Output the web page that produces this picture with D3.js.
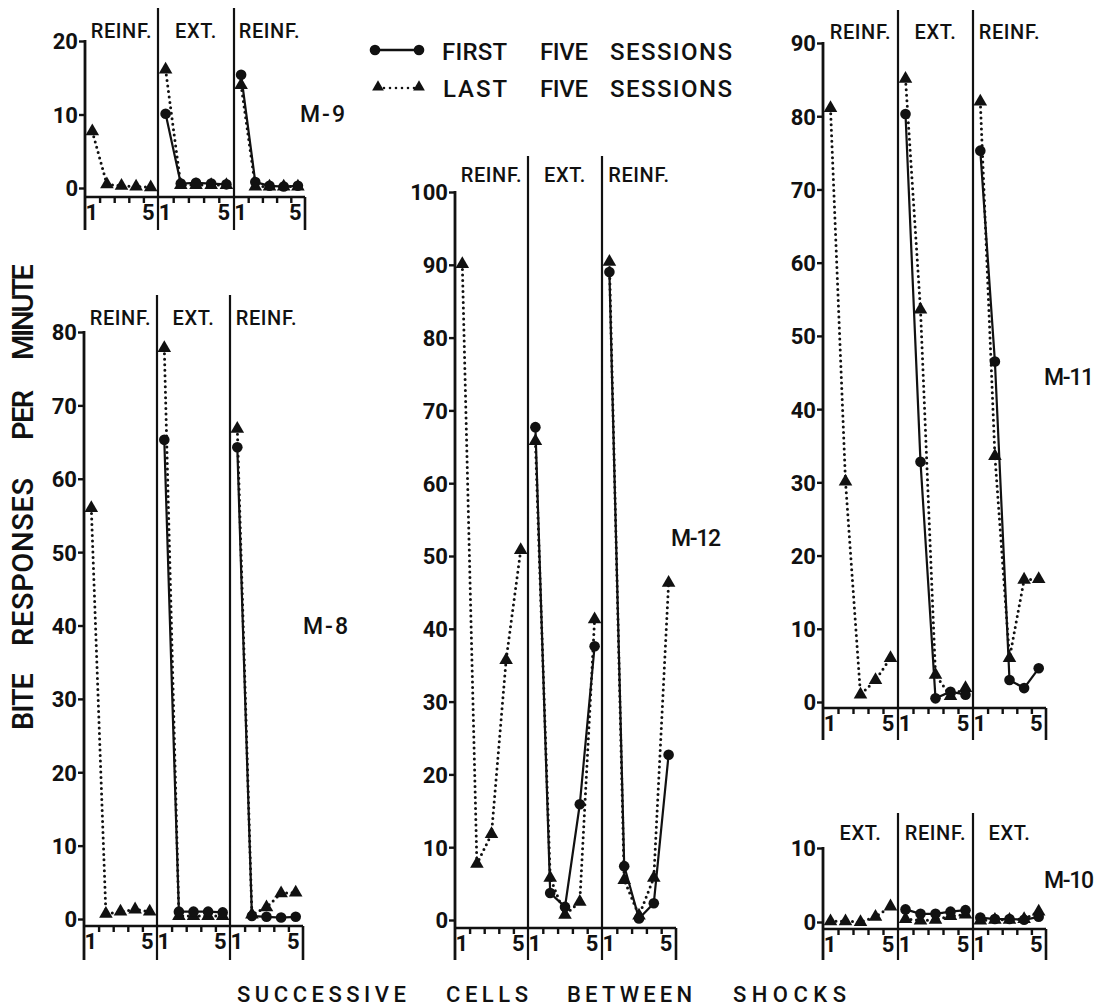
<!DOCTYPE html>
<html>
<head>
<meta charset="utf-8">
<script src="https://cdn.jsdelivr.net/npm/d3@7"></script>
<style>
  html, body { margin: 0; padding: 0; background: #fff; }
  svg { display: block; }
  text { font-family: Roboto, "DejaVu Sans", sans-serif; fill: #111; }
</style>
</head>
<body>
<svg id="chart" width="1113" height="1007"></svg>
<script>
// Bite responses per minute, cells 1-5 of each condition block.
const cells = [1, 2, 3, 4, 5];
const cellTickLabels = ["1", "5"];
const cellTickValues = [1, 5];

const phasesStandard = ["REINF.", "EXT.", "REINF."];
const phasesM10 = ["EXT.", "REINF.", "EXT."];

const seriesNames = ["FIRST FIVE SESSIONS", "LAST FIVE SESSIONS"];
const titleY = ["BITE", "RESPONSES", "PER", "MINUTE"];
const titleX = ["SUCCESSIVE", "CELLS", "BETWEEN", "SHOCKS"];

const NA = [null, null, null, null, null];

// M-9
const m9First = [NA, [10.1, 0.6, 0.7, 0.6, 0.5], [15.4, 0.8, 0.3, 0.2, 0.3]];
const m9Last  = [[7.7, 0.5, 0.3, 0.2, 0.1], [16.1, 0.4, 0.4, 0.4, 0.4], [14.0, 0.2, 0.2, 0.2, 0.2]];
const m9Ticks = [0, 10, 20];

// M-8
const m8First = [NA, [65.3, 1.0, 1.0, 1.0, 0.9], [64.3, 0.4, 0.3, 0.2, 0.3]];
const m8Last  = [[56.0, 0.7, 1.0, 1.3, 1.0], [77.8, 0.4, 0.4, 0.4, 0.4], [66.8, 0.6, 1.6, 3.5, 3.6]];
const m8Ticks = [0, 10, 20, 30, 40, 50, 60, 70, 80];

// M-12
const m12First = [NA, [67.7, 3.7, 1.8, 15.9, 37.6], [89.0, 7.4, 0.2, 2.3, 22.7]];
const m12Last  = [[90.1, 7.7, 11.8, 35.7, 50.8], [65.8, 5.8, 0.7, 2.5, 41.3], [90.4, 5.5, 0.6, 5.8, 46.3]];
const m12Ticks = [0, 10, 20, 30, 40, 50, 60, 70, 80, 90, 100];

// M-11
const m11First = [NA, [80.3, 32.8, 0.5, 1.4, 1.0], [75.3, 46.5, 3.0, 1.9, 4.6]];
const m11Last  = [[81.1, 30.1, 1.0, 3.0, 6.0], [85.1, 53.6, 3.7, 0.8, 1.9], [82.0, 33.6, 6.0, 16.7, 16.8]];
const m11Ticks = [0, 10, 20, 30, 40, 50, 60, 70, 80, 90];

// M-10
const m10First = [NA, [1.7, 1.1, 1.1, 1.4, 1.6], [0.6, 0.4, 0.4, 0.3, 0.7]];
const m10Last  = [[0.1, 0.1, 0.0, 0.7, 2.1], [0.4, 0.2, 0.3, 0.8, 1.0], [0.2, 0.3, 0.3, 0.4, 1.4]];
const m10Ticks = [0, 10];

// Panel frames: left axis x, block boundaries, y range in pixels.
const panels = [
  { name: "M-9",  phases: phasesStandard, first: m9First,  last: m9Last,  ticks: m9Ticks,
    bounds: [85, 158, 234, 305], y0: 188, yTop: 41, axisY: 197, bottom: 230, divTop: 8, labelY: 38, nameX: 300, nameY: 122 },
  { name: "M-8",  phases: phasesStandard, first: m8First,  last: m8Last,  ticks: m8Ticks,
    bounds: [84, 157, 230, 303], y0: 919, yTop: 332, axisY: 926, bottom: 960, divTop: 295, labelY: 325, nameX: 303, nameY: 634 },
  { name: "M-12", phases: phasesStandard, first: m12First, last: m12Last, ticks: m12Ticks,
    bounds: [455, 528, 602, 676], y0: 920, yTop: 192, axisY: 928, bottom: 960, divTop: 156, labelY: 182, nameX: 671, nameY: 546 },
  { name: "M-11", phases: phasesStandard, first: m11First, last: m11Last, ticks: m11Ticks,
    bounds: [823, 898, 973, 1046], y0: 702, yTop: 43, axisY: 708, bottom: 740, divTop: 10, labelY: 39, nameX: 1044, nameY: 385 },
  { name: "M-10", phases: phasesM10,      first: m10First, last: m10Last, ticks: m10Ticks,
    bounds: [823, 898, 973, 1046], y0: 922, yTop: 848, axisY: 929, bottom: 960, divTop: 813, labelY: 840, nameX: 1044, nameY: 888 }
];

const svg = d3.select("#chart");
const ink = "#111";

const triangle = d3.symbol().type(d3.symbolTriangle).size(80);

panels.forEach(p => {
  const g = svg.append("g");
  const yMax = p.ticks[p.ticks.length - 1];
  const y = d3.scaleLinear().domain([0, yMax]).range([p.y0, p.yTop]);

  // y axis with ticks and labels
  const yAxis = d3.axisLeft(y).tickValues(p.ticks).tickSize(6).tickPadding(1).tickFormat(d3.format("d"));
  const ya = g.append("g").attr("transform", `translate(${p.bounds[0]},0)`).call(yAxis);
  ya.select(".domain").remove();
  ya.selectAll(".tick line").attr("stroke", ink).attr("stroke-width", 2.4);
  ya.selectAll(".tick text")
    .attr("font-size", 22).attr("font-weight", 700)
    .attr("font-family", "Roboto, sans-serif").attr("fill", ink).attr("dy", "0.36em");

  // vertical axis line running down past the baseline
  g.append("line").attr("x1", p.bounds[0]).attr("x2", p.bounds[0])
    .attr("y1", p.yTop - 1).attr("y2", p.bottom)
    .attr("stroke", ink).attr("stroke-width", 2.8);

  // block dividers
  [p.bounds[1], p.bounds[2]].forEach(bx => {
    g.append("line").attr("x1", bx).attr("x2", bx)
      .attr("y1", p.divTop).attr("y2", p.bottom)
      .attr("stroke", ink).attr("stroke-width", 2.2);
  });
  // right end bar under the cell axis
  g.append("line").attr("x1", p.bounds[3]).attr("x2", p.bounds[3])
    .attr("y1", p.axisY).attr("y2", p.bottom)
    .attr("stroke", ink).attr("stroke-width", 2.6);

  // horizontal cell axis
  g.append("line").attr("x1", p.bounds[0]).attr("x2", p.bounds[3])
    .attr("y1", p.axisY).attr("y2", p.axisY)
    .attr("stroke", ink).attr("stroke-width", 2.6);

  const lineGen = xs => d3.line().defined(d => d.v != null).x(d => xs(d.c)).y(d => y(d.v));

  p.phases.forEach((label, i) => {
    const x0 = p.bounds[i], x1 = p.bounds[i + 1];
    const xs = d3.scaleLinear().domain([0.5, 5.5]).range([x0, x1]);

    // minor ticks between cells
    const minor = d3.axisBottom(xs).tickValues([1.5, 2.5, 3.5, 4.5]).tickSize(6).tickFormat("");
    const ma = g.append("g").attr("transform", `translate(0,${p.axisY})`).call(minor);
    ma.select(".domain").remove();
    ma.selectAll(".tick line").attr("stroke", ink).attr("stroke-width", 2.4);

    // "1" and "5" labels
    const lab = d3.axisBottom(xs).tickValues(cellTickValues).tickSize(0).tickPadding(7)
      .tickFormat((d, k) => cellTickLabels[k]);
    const la = g.append("g").attr("transform", `translate(0,${p.axisY})`).call(lab);
    la.select(".domain").remove();
    la.selectAll(".tick text")
      .attr("font-size", 22).attr("font-weight", 700)
      .attr("font-family", "Roboto, sans-serif").attr("fill", ink)
      .attr("dx", (d, k) => k === 0 ? -1 : -3);

    // block label
    g.append("text").attr("x", (x0 + x1) / 2).attr("y", p.labelY)
      .attr("text-anchor", "middle").attr("font-size", 20).attr("font-weight", 500)
      .attr("letter-spacing", 0.6).text(label);

    const lastPts = cells.map((c, k) => ({ c, v: p.last[i][k] }));
    const firstPts = cells.map((c, k) => ({ c, v: p.first[i][k] }));

    // last five sessions: dotted line with triangles
    g.append("path").datum(lastPts).attr("d", lineGen(xs))
      .attr("fill", "none").attr("stroke", ink).attr("stroke-width", 3)
      .attr("stroke-linecap", "round").attr("stroke-dasharray", "0,5.5");
    g.selectAll(null).data(lastPts.filter(d => d.v != null)).enter().append("path")
      .attr("d", triangle).attr("fill", ink)
      .attr("transform", d => `translate(${xs(d.c)},${y(d.v)})`);

    // first five sessions: solid line with dots
    g.append("path").datum(firstPts).attr("d", lineGen(xs))
      .attr("fill", "none").attr("stroke", ink).attr("stroke-width", 2.2);
    g.selectAll(null).data(firstPts.filter(d => d.v != null)).enter().append("circle")
      .attr("cx", d => xs(d.c)).attr("cy", d => y(d.v)).attr("r", 5.3).attr("fill", ink);
  });

  // subject name
  g.append("text").attr("x", p.nameX).attr("y", p.nameY)
    .attr("font-size", 23).attr("font-weight", 500)
    .attr("textLength", p.name.length === 3 ? 45 : 50).attr("lengthAdjust", "spacing")
    .text(p.name);
});

// Legend
const leg = svg.append("g");
leg.append("line").attr("x1", 375).attr("x2", 419).attr("y1", 50).attr("y2", 50)
  .attr("stroke", ink).attr("stroke-width", 2.4);
leg.selectAll(null).data([375, 419]).enter().append("circle")
  .attr("cx", d => d).attr("cy", 50).attr("r", 5.3).attr("fill", ink);
leg.append("line").attr("x1", 378).attr("x2", 419).attr("y1", 88).attr("y2", 88)
  .attr("stroke", ink).attr("stroke-width", 2.6).attr("stroke-linecap", "round")
  .attr("stroke-dasharray", "0,6");
leg.selectAll(null).data([378, 419]).enter().append("path")
  .attr("d", d3.symbol().type(d3.symbolTriangle).size(60)).attr("fill", ink)
  .attr("transform", d => `translate(${d},87)`);

const legendWords = [
  { y: 60, words: seriesNames[0].split(" "), xs: [442, 540, 610], ws: [65, 48, 122] },
  { y: 97, words: seriesNames[1].split(" "), xs: [443, 540, 610], ws: [64, 48, 122] }
];
legendWords.forEach(row => {
  row.words.forEach((w, k) => {
    leg.append("text").attr("x", row.xs[k]).attr("y", row.y)
      .attr("font-size", 24).attr("font-weight", 500)
      .attr("textLength", row.ws[k]).attr("lengthAdjust", "spacing").text(w);
  });
});

// Axis titles
const yWordSpans = [[673, 730], [478, 646], [390, 440], [264, 360]];
titleY.forEach((w, k) => {
  const [top, bot] = yWordSpans[k];
  svg.append("text")
    .attr("transform", `translate(33,${bot}) rotate(-90)`)
    .attr("font-size", 29).attr("font-weight", 500)
    .attr("textLength", bot - top).attr("lengthAdjust", "spacing").text(w);
});

const xWordSpans = [[237, 406], [446, 528], [567, 692], [733, 846]];
titleX.forEach((w, k) => {
  const [l, r] = xWordSpans[k];
  svg.append("text").attr("x", l).attr("y", 1002)
    .attr("font-size", 22).attr("font-weight", 500)
    .attr("textLength", r - l).attr("lengthAdjust", "spacing").text(w);
});
</script>
</body>
</html>
